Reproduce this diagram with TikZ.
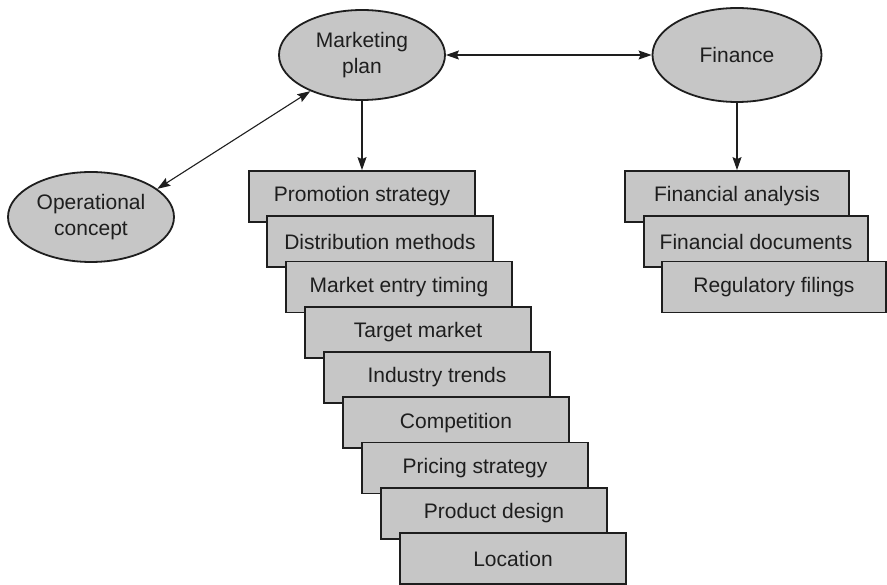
\documentclass[tikz,border=0pt]{standalone}
\usepackage{fontspec}
\setmainfont{Liberation Sans}
\usetikzlibrary{shapes.geometric,arrows.meta}
\definecolor{fillgray}{RGB}{198,198,198}
\definecolor{inkc}{RGB}{30,30,30}
\tikzset{
  x=1pt, y=-1pt,
  oval/.style={ellipse, draw=inkc, line width=1.8pt, fill=fillgray, minimum width=166pt, minimum height=90pt, inner sep=0pt, align=center, text=inkc, font=\fontsize{21}{26}\selectfont},
  itembox/.style={rectangle, draw=inkc, line width=1.8pt, fill=fillgray, minimum width=226pt, minimum height=51pt, inner sep=0pt, text=inkc, font=\fontsize{21}{26}\selectfont},
  finbox/.style={itembox, minimum width=224pt},
  conn/.style={draw=inkc, line width=1.1pt},
  tip/.style={-{Stealth[length=13pt,width=9pt,inset=2pt]}},
  tips/.style={{Stealth[length=13pt,width=9pt,inset=2pt]}-{Stealth[length=13pt,width=9pt,inset=2pt]}}
}
\begin{document}
\begin{tikzpicture}
\useasboundingbox (0,0) rectangle (887,585);
\fill[white] (0,0) rectangle (887,585);

\node[oval] (mp) at (362,55) {Marketing\\plan};
\node[oval, minimum width=169pt, minimum height=94pt] (fin) at (737,55) {Finance};
\node[oval] (op) at (91,217) {Operational\\concept};

\node[itembox] (b1) at (362,196.5) {Promotion strategy};
\node[itembox] (b2) at (380,241.75) {Distribution methods};
\node[itembox] (b3) at (399,287) {Market entry timing};
\node[itembox] (b4) at (418,332.25) {Target market};
\node[itembox] (b5) at (437,377.5) {Industry trends};
\node[itembox] (b6) at (456,422.75) {Competition};
\node[itembox] (b7) at (475,468) {Pricing strategy};
\node[itembox] (b8) at (494,513.25) {Product design};
\node[itembox] (b9) at (513,558.5) {Location};

\node[finbox] (f1) at (737,196.5) {Financial analysis};
\node[finbox] (f2) at (756,241.75) {Financial documents};
\node[finbox] (f3) at (774,287) {Regulatory filings};

\draw[conn, tips] (mp.east) -- (fin.west);
\draw[conn, tips] (mp.215) -- (op.23);
\draw[conn, tip] (mp.south) -- (b1.north);
\draw[conn, tip] (fin.south) -- (f1.north);
\end{tikzpicture}
\end{document}
